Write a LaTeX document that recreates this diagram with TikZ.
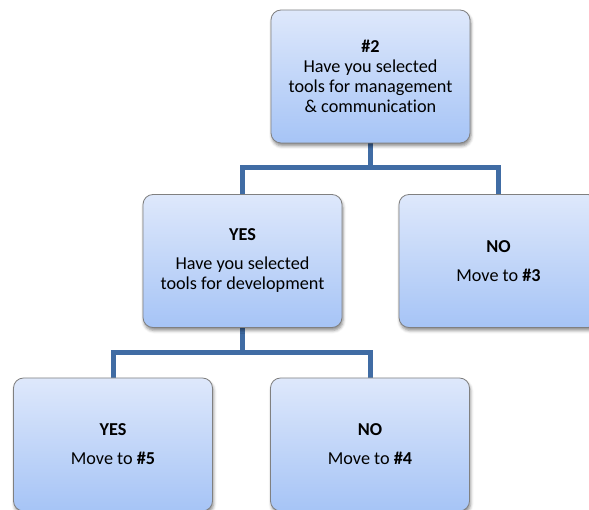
\documentclass[tikz,border=0pt]{standalone}
\usepackage{fontspec}
\setmainfont[Ligatures=NoCommon]{Carlito}
\usetikzlibrary{shadows.blur,backgrounds}
\definecolor{boxtop}{RGB}{222,232,251}
\definecolor{boxbot}{RGB}{166,196,246}
\definecolor{boxline}{RGB}{128,128,128}
\definecolor{linkblue}{RGB}{64,108,164}
\tikzset{
  decision/.style={draw=boxline, line width=0.8pt, rounded corners=10pt,
    top color=boxtop, bottom color=boxbot,
    minimum width=199pt, minimum height=133pt, inner sep=0pt,
    align=center, font=\fontsize{18.2}{20}\selectfont,
    blur shadow={shadow xshift=1pt, shadow yshift=-3pt, shadow blur radius=3pt, shadow opacity=45}},
  link/.style={draw=linkblue, line width=5pt}
}
\begin{document}
\begin{tikzpicture}[x=1pt,y=-1pt]
\useasboundingbox (0,0) rectangle (589,510);
\clip (0,0) rectangle (589,510);
\node[decision] (top) at (370.5,76.5) {\textbf{\#2}\\Have you selected\\tools for management\\\& communication};
\node[decision] (midL) at (242.5,261) {\textbf{YES}\\[9pt]Have you selected\\tools for development};
\node[decision] (midR) at (498.5,261) {\textbf{NO}\\[9pt]Move to \textbf{\#3}};
\node[decision] (botL) at (113,444.5) {\textbf{YES}\\[9pt]Move to \textbf{\#5}};
\node[decision] (botR) at (370,444.5) {\textbf{NO}\\[9pt]Move to \textbf{\#4}};
\coordinate (j1) at (370.5,168);
\coordinate (j2) at (242.5,353);
\begin{scope}[on background layer]
\draw[link] (top.south) -- (j1);
\draw[link] (midL.north) |- (j1) -| (midR.north);
\draw[link] (midL.south) -- (j2);
\draw[link] (botL.north) |- (j2) -| (botR.north);
\end{scope}
\end{tikzpicture}
\end{document}
